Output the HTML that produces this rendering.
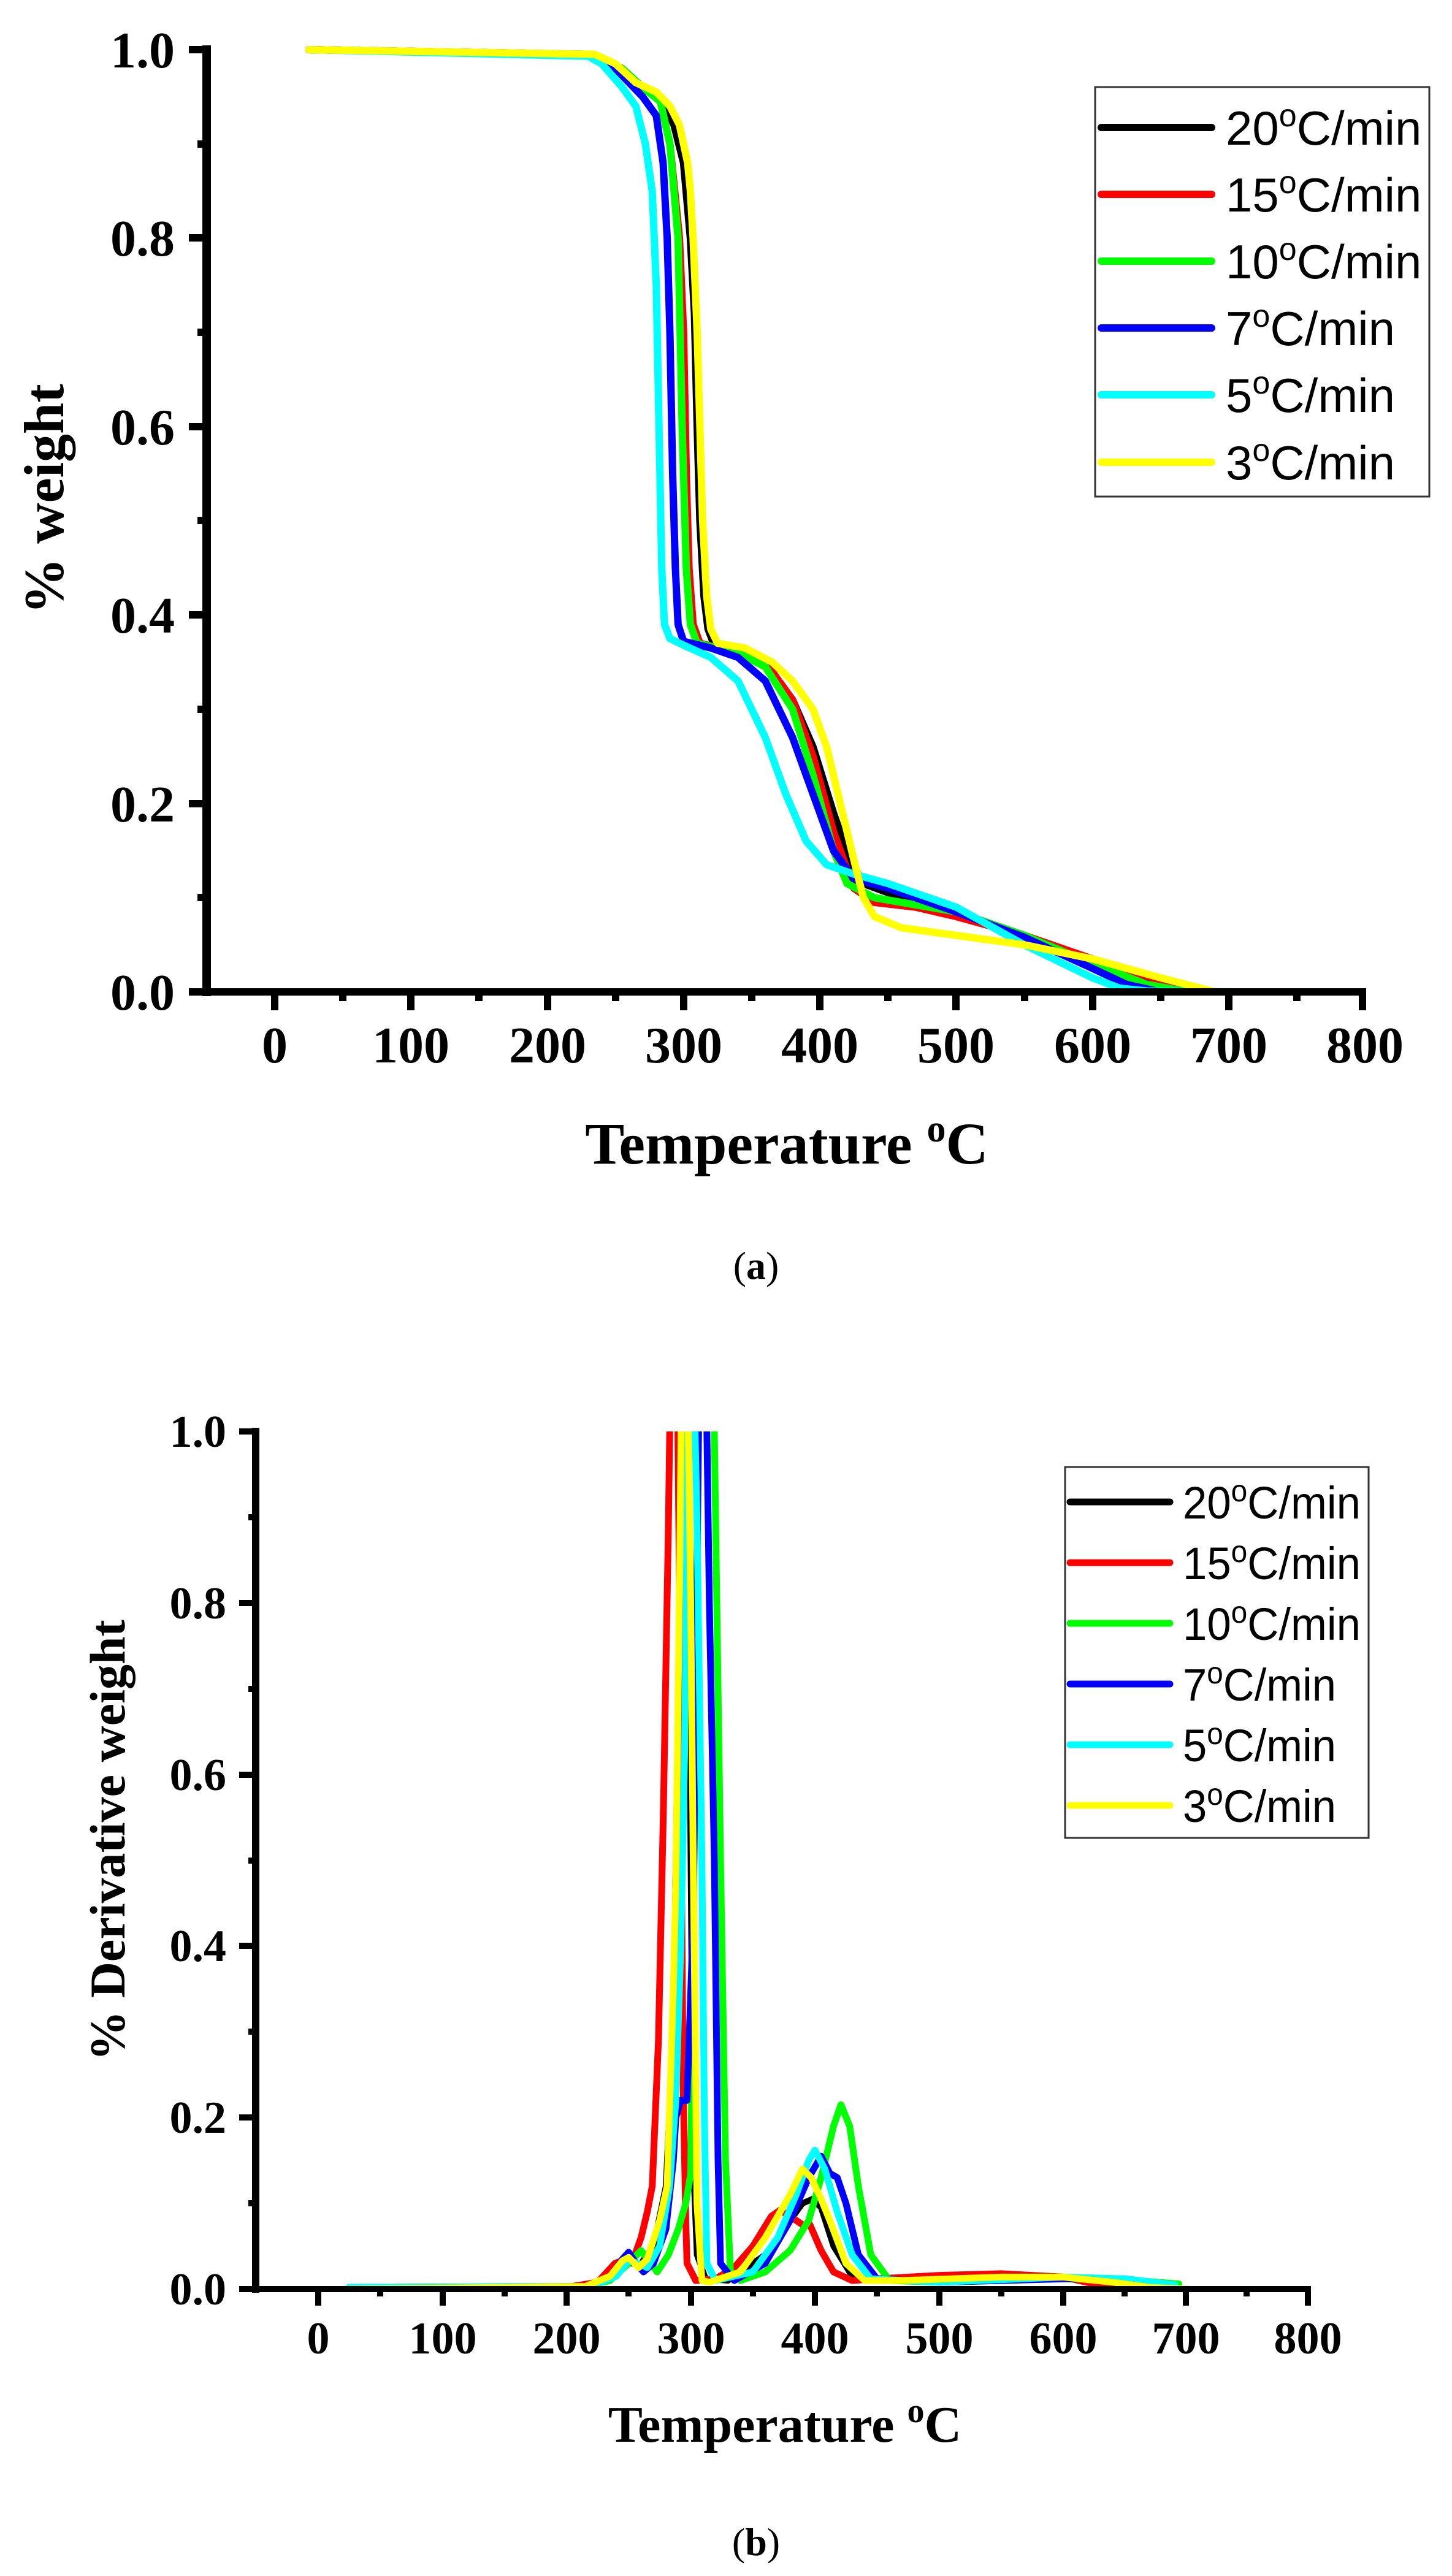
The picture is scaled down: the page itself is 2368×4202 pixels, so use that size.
<!DOCTYPE html>
<html><head><meta charset="utf-8"><style>html,body{margin:0;padding:0;background:#fff}svg{display:block}</style></head>
<body>
<svg xmlns="http://www.w3.org/2000/svg" width="2368" height="4202" viewBox="0 0 2368 4202">
<rect width="2368" height="4202" fill="#fff"/>
<defs>
<clipPath id="cb"><rect x="420" y="2335" width="1720" height="1400"/></clipPath>
</defs>

<!-- ===== Chart (a) ===== -->
<g fill="none" stroke-linejoin="round" stroke-linecap="round">
<g transform="translate(448,1618) scale(2.2225,-1537)">
<polyline vector-effect="non-scaling-stroke" stroke="#000" stroke-width="12" points="25,1 230,0.995 255,0.98 270,0.96 285,0.945 293,0.92 300,0.88 305,0.8 308,0.72 310,0.6 312,0.5 315,0.42 318,0.385 322,0.37 340,0.36 360,0.345 380,0.31 395,0.26 410,0.19 422,0.14 432,0.115 460,0.1 500,0.085 550,0.06 600,0.03 650,0.01 690,0"/>
<polyline vector-effect="non-scaling-stroke" stroke="#f00" stroke-width="12" points="25,1 230,0.995 255,0.98 270,0.96 283,0.945 290,0.9 297,0.8 300,0.7 302,0.55 304,0.45 307,0.39 312,0.37 340,0.36 360,0.35 380,0.31 395,0.25 410,0.17 425,0.11 440,0.095 470,0.09 500,0.08 550,0.06 600,0.035 650,0.012 685,0"/>
<polyline vector-effect="non-scaling-stroke" stroke="#0f0" stroke-width="12" points="25,1 230,0.995 255,0.98 270,0.96 283,0.945 290,0.9 296,0.8 299,0.6 302,0.45 305,0.39 310,0.37 340,0.36 360,0.345 380,0.3 395,0.23 410,0.15 420,0.115 440,0.1 500,0.085 550,0.06 600,0.03 640,0.008 670,0"/>
<polyline vector-effect="non-scaling-stroke" stroke="#00f" stroke-width="12" points="25,1 230,0.995 250,0.98 270,0.95 280,0.93 285,0.88 288,0.8 290,0.7 292,0.55 294,0.45 296,0.39 300,0.372 320,0.365 340,0.355 360,0.33 380,0.27 395,0.21 410,0.15 425,0.12 450,0.11 500,0.085 550,0.058 600,0.025 625,0.008 650,0"/>
<polyline vector-effect="non-scaling-stroke" stroke="#0ff" stroke-width="12" points="25,1 230,0.993 240,0.985 255,0.96 265,0.94 272,0.9 277,0.85 280,0.75 282,0.6 284,0.45 286,0.39 290,0.375 300,0.368 320,0.355 340,0.33 360,0.27 375,0.21 390,0.16 405,0.135 425,0.125 450,0.115 500,0.09 550,0.05 600,0.015 620,0.004 640,0.001 700,0"/>
<polyline vector-effect="non-scaling-stroke" stroke="#ff0" stroke-width="12" points="25,1 235,0.995 250,0.985 265,0.965 280,0.955 290,0.94 297,0.92 303,0.88 305,0.85 307,0.8 310,0.7 312,0.6 314,0.5 317,0.42 320,0.385 325,0.37 345,0.365 365,0.35 380,0.33 395,0.3 405,0.26 415,0.2 425,0.14 432,0.1 440,0.08 460,0.068 500,0.06 550,0.05 600,0.035 650,0.015 690,0"/>
</g>
</g>
<!-- axes a -->
<g stroke="#000" fill="none">
<line x1="337" y1="74" x2="337" y2="1625" stroke-width="14"/>
<line x1="330" y1="1618" x2="2228" y2="1618" stroke-width="12"/>
<g stroke-width="12">
<line x1="308" y1="81" x2="337" y2="81"/><line x1="308" y1="388" x2="337" y2="388"/><line x1="308" y1="696" x2="337" y2="696"/><line x1="308" y1="1003" x2="337" y2="1003"/><line x1="308" y1="1311" x2="337" y2="1311"/><line x1="308" y1="1618" x2="337" y2="1618"/>
<line x1="322" y1="235" x2="337" y2="235"/><line x1="322" y1="542" x2="337" y2="542"/><line x1="322" y1="849" x2="337" y2="849"/><line x1="322" y1="1157" x2="337" y2="1157"/><line x1="322" y1="1464" x2="337" y2="1464"/>
<line x1="448" y1="1618" x2="448" y2="1648"/><line x1="670" y1="1618" x2="670" y2="1648"/><line x1="893" y1="1618" x2="893" y2="1648"/><line x1="1115" y1="1618" x2="1115" y2="1648"/><line x1="1337" y1="1618" x2="1337" y2="1648"/><line x1="1559" y1="1618" x2="1559" y2="1648"/><line x1="1782" y1="1618" x2="1782" y2="1648"/><line x1="2004" y1="1618" x2="2004" y2="1648"/><line x1="2222" y1="1612" x2="2222" y2="1648"/>
<line x1="559" y1="1618" x2="559" y2="1633"/><line x1="781" y1="1618" x2="781" y2="1633"/><line x1="1004" y1="1618" x2="1004" y2="1633"/><line x1="1226" y1="1618" x2="1226" y2="1633"/><line x1="1448" y1="1618" x2="1448" y2="1633"/><line x1="1671" y1="1618" x2="1671" y2="1633"/><line x1="1893" y1="1618" x2="1893" y2="1633"/><line x1="2115" y1="1618" x2="2115" y2="1633"/>
</g>
</g>
<g font-family="Liberation Serif, serif" font-weight="bold" font-size="84" fill="#000">
<g text-anchor="end">
<text x="285" y="110">1.0</text><text x="285" y="417">0.8</text><text x="285" y="725">0.6</text><text x="285" y="1032">0.4</text><text x="285" y="1340">0.2</text><text x="285" y="1647">0.0</text>
</g>
<g text-anchor="middle">
<text x="448" y="1733">0</text><text x="670" y="1733">100</text><text x="893" y="1733">200</text><text x="1115" y="1733">300</text><text x="1337" y="1733">400</text><text x="1559" y="1733">500</text><text x="1782" y="1733">600</text><text x="2004" y="1733">700</text><text x="2226" y="1733">800</text>
</g>
<text x="1283" y="1898" text-anchor="middle" font-size="96">Temperature <tspan font-size="62" dy="-36">o</tspan><tspan dy="36">C</tspan></text>
<text transform="translate(103,814) rotate(-90)" text-anchor="middle" font-size="92">% weight</text>
<text x="1233" y="2086" text-anchor="middle" font-weight="normal" font-size="64">(<tspan font-weight="bold">a</tspan>)</text>
</g>
<!-- legend a -->
<rect x="1786" y="142" width="545" height="668" fill="#fff" stroke="#333" stroke-width="3"/>
<g stroke-width="12" stroke-linecap="round">
<line x1="1796" y1="208" x2="1976" y2="208" stroke="#000"/>
<line x1="1796" y1="317" x2="1976" y2="317" stroke="#f00"/>
<line x1="1796" y1="426" x2="1976" y2="426" stroke="#0f0"/>
<line x1="1796" y1="535" x2="1976" y2="535" stroke="#00f"/>
<line x1="1796" y1="644" x2="1976" y2="644" stroke="#0ff"/>
<line x1="1796" y1="754" x2="1976" y2="754" stroke="#ff0"/>
</g>
<g font-family="Liberation Sans, Arial, sans-serif" font-size="78" fill="#000">
<text x="1999" y="236">20<tspan font-size="52" dy="-30">o</tspan><tspan dy="30">C/min</tspan></text>
<text x="1999" y="345">15<tspan font-size="52" dy="-30">o</tspan><tspan dy="30">C/min</tspan></text>
<text x="1999" y="454">10<tspan font-size="52" dy="-30">o</tspan><tspan dy="30">C/min</tspan></text>
<text x="1999" y="563">7<tspan font-size="52" dy="-30">o</tspan><tspan dy="30">C/min</tspan></text>
<text x="1999" y="672">5<tspan font-size="52" dy="-30">o</tspan><tspan dy="30">C/min</tspan></text>
<text x="1999" y="782">3<tspan font-size="52" dy="-30">o</tspan><tspan dy="30">C/min</tspan></text>
</g>

<!-- ===== Chart (b) ===== -->
<g fill="none" stroke-linejoin="round" stroke-linecap="round" clip-path="url(#cb)">
<g transform="translate(519,3734) scale(2.025,-1399)">
<polyline vector-effect="non-scaling-stroke" stroke="#000" stroke-width="10" points="25,0 215,0.003 235,0.015 250,0.03 260,0.03 270,0.05 280,0.12 286,0.3 290,0.7 293,1.1 297,1.1 300,0.5 302,0.15 305,0.04 312,0.012 330,0.01 360,0.04 380,0.08 390,0.1 398,0.105 405,0.095 415,0.05 430,0.015 450,0.01 500,0.012 600,0.014 650,0.008 690,0"/>
<polyline vector-effect="non-scaling-stroke" stroke="#f00" stroke-width="11" points="25,0 200,0.002 225,0.008 239,0.03 248,0.035 255,0.04 260,0.06 265,0.09 269,0.12 274,0.29 278,0.56 282,0.89 284,1.1 289,1.1 291,0.8 293,0.4 294,0.23 296,0.08 297,0.03 304,0.01 320,0.012 335,0.025 350,0.05 365,0.085 372,0.092 380,0.085 390,0.075 396,0.075 405,0.045 415,0.02 430,0.01 450,0.012 500,0.016 550,0.018 600,0.014 625,0.006 650,0.001 700,0"/>
<polyline vector-effect="non-scaling-stroke" stroke="#0f0" stroke-width="11" points="25,0.002 215,0.003 235,0.01 250,0.03 260,0.045 265,0.035 273,0.02 282,0.04 290,0.07 296,0.1 300,0.135 302,0.4 305,0.8 307,1.1 318,1.1 321,0.8 324,0.5 328,0.15 332,0.02 340,0.01 360,0.02 380,0.045 395,0.08 405,0.13 415,0.19 421,0.215 428,0.19 435,0.12 445,0.04 460,0.01 500,0.008 550,0.01 600,0.012 650,0.011 693,0.006"/>
<polyline vector-effect="non-scaling-stroke" stroke="#00f" stroke-width="11" points="25,0.002 215,0.003 235,0.012 245,0.035 250,0.043 256,0.03 262,0.02 270,0.03 280,0.07 286,0.15 288,0.2 292,0.22 297,0.22 302,0.43 305,0.83 307,1.1 312,1.1 315,0.8 319,0.5 322,0.15 324,0.03 335,0.01 360,0.03 380,0.08 395,0.13 405,0.155 412,0.135 418,0.13 425,0.1 435,0.04 450,0.012 500,0.008 600,0.012 650,0.012 690,0.004"/>
<polyline vector-effect="non-scaling-stroke" stroke="#0ff" stroke-width="11" points="25,0.002 220,0.003 240,0.015 250,0.033 258,0.03 265,0.025 275,0.05 283,0.12 288,0.22 292,0.4 295,0.62 297,0.9 298,1.1 302,1.1 305,0.9 309,0.5 311,0.2 313,0.03 320,0.01 350,0.02 370,0.06 385,0.11 395,0.15 400,0.162 408,0.14 418,0.09 430,0.04 445,0.012 500,0.008 600,0.014 650,0.012 690,0.005"/>
<polyline vector-effect="non-scaling-stroke" stroke="#ff0" stroke-width="11" points="25,0 215,0.003 235,0.015 245,0.033 250,0.037 258,0.025 265,0.035 275,0.08 281,0.12 286,0.35 288,0.47 291,0.83 293,1.1 297,1.1 300,0.8 302,0.5 305,0.1 309,0.01 315,0.008 340,0.02 360,0.06 380,0.11 390,0.14 397,0.13 405,0.105 412,0.08 425,0.03 440,0.01 470,0.01 550,0.014 600,0.014 640,0.008 670,0.002 700,0"/>
</g>
</g>
<!-- axes b -->
<g stroke="#000" fill="none">
<line x1="417" y1="2329" x2="417" y2="3740" stroke-width="12"/>
<line x1="410" y1="3734" x2="2137" y2="3734" stroke-width="10"/>
<g stroke-width="10">
<line x1="390" y1="2335" x2="417" y2="2335"/><line x1="390" y1="2615" x2="417" y2="2615"/><line x1="390" y1="2895" x2="417" y2="2895"/><line x1="390" y1="3174" x2="417" y2="3174"/><line x1="390" y1="3454" x2="417" y2="3454"/><line x1="390" y1="3734" x2="417" y2="3734"/>
<line x1="405" y1="2475" x2="417" y2="2475"/><line x1="405" y1="2755" x2="417" y2="2755"/><line x1="405" y1="3035" x2="417" y2="3035"/><line x1="405" y1="3314" x2="417" y2="3314"/><line x1="405" y1="3594" x2="417" y2="3594"/>
<line x1="519" y1="3734" x2="519" y2="3761"/><line x1="722" y1="3734" x2="722" y2="3761"/><line x1="924" y1="3734" x2="924" y2="3761"/><line x1="1127" y1="3734" x2="1127" y2="3761"/><line x1="1329" y1="3734" x2="1329" y2="3761"/><line x1="1532" y1="3734" x2="1532" y2="3761"/><line x1="1734" y1="3734" x2="1734" y2="3761"/><line x1="1934" y1="3734" x2="1934" y2="3761"/><line x1="2133" y1="3729" x2="2133" y2="3761"/>
<line x1="620" y1="3734" x2="620" y2="3746"/><line x1="823" y1="3734" x2="823" y2="3746"/><line x1="1025" y1="3734" x2="1025" y2="3746"/><line x1="1228" y1="3734" x2="1228" y2="3746"/><line x1="1430" y1="3734" x2="1430" y2="3746"/><line x1="1633" y1="3734" x2="1633" y2="3746"/><line x1="1834" y1="3734" x2="1834" y2="3746"/><line x1="2033" y1="3734" x2="2033" y2="3746"/>
</g>
</g>
<g font-family="Liberation Serif, serif" font-weight="bold" font-size="74" fill="#000">
<g text-anchor="end">
<text x="369" y="2360">1.0</text><text x="369" y="2640">0.8</text><text x="369" y="2920">0.6</text><text x="369" y="3199">0.4</text><text x="369" y="3479">0.2</text><text x="369" y="3759">0.0</text>
</g>
<g text-anchor="middle">
<text x="519" y="3839">0</text><text x="722" y="3839">100</text><text x="924" y="3839">200</text><text x="1127" y="3839">300</text><text x="1329" y="3839">400</text><text x="1532" y="3839">500</text><text x="1734" y="3839">600</text><text x="1934" y="3839">700</text><text x="2133" y="3839">800</text>
</g>
<text x="1280" y="3983" text-anchor="middle" font-size="84">Temperature <tspan font-size="56" dy="-32">o</tspan><tspan dy="32">C</tspan></text>
<text transform="translate(203,3002) rotate(-90)" text-anchor="middle" font-size="82">% Derivative weight</text>
<text x="1233" y="4168" text-anchor="middle" font-weight="normal" font-size="64">(<tspan font-weight="bold">b</tspan>)</text>
</g>
<!-- legend b -->
<rect x="1737" y="2393" width="495" height="605" fill="#fff" stroke="#333" stroke-width="3"/>
<g stroke-width="11" stroke-linecap="round">
<line x1="1745" y1="2450" x2="1908" y2="2450" stroke="#000"/>
<line x1="1745" y1="2549" x2="1908" y2="2549" stroke="#f00"/>
<line x1="1745" y1="2648" x2="1908" y2="2648" stroke="#0f0"/>
<line x1="1745" y1="2747" x2="1908" y2="2747" stroke="#00f"/>
<line x1="1745" y1="2846" x2="1908" y2="2846" stroke="#0ff"/>
<line x1="1745" y1="2945" x2="1908" y2="2945" stroke="#ff0"/>
</g>
<g font-family="Liberation Sans, Arial, sans-serif" font-size="74" fill="#000">
<text x="1929" y="2477" textLength="290" lengthAdjust="spacingAndGlyphs">20<tspan font-size="50" dy="-28">o</tspan><tspan dy="28">C/min</tspan></text>
<text x="1929" y="2576" textLength="290" lengthAdjust="spacingAndGlyphs">15<tspan font-size="50" dy="-28">o</tspan><tspan dy="28">C/min</tspan></text>
<text x="1929" y="2675" textLength="290" lengthAdjust="spacingAndGlyphs">10<tspan font-size="50" dy="-28">o</tspan><tspan dy="28">C/min</tspan></text>
<text x="1929" y="2774" textLength="250" lengthAdjust="spacingAndGlyphs">7<tspan font-size="50" dy="-28">o</tspan><tspan dy="28">C/min</tspan></text>
<text x="1929" y="2873" textLength="250" lengthAdjust="spacingAndGlyphs">5<tspan font-size="50" dy="-28">o</tspan><tspan dy="28">C/min</tspan></text>
<text x="1929" y="2972" textLength="250" lengthAdjust="spacingAndGlyphs">3<tspan font-size="50" dy="-28">o</tspan><tspan dy="28">C/min</tspan></text>
</g>
</svg>
</body></html>
